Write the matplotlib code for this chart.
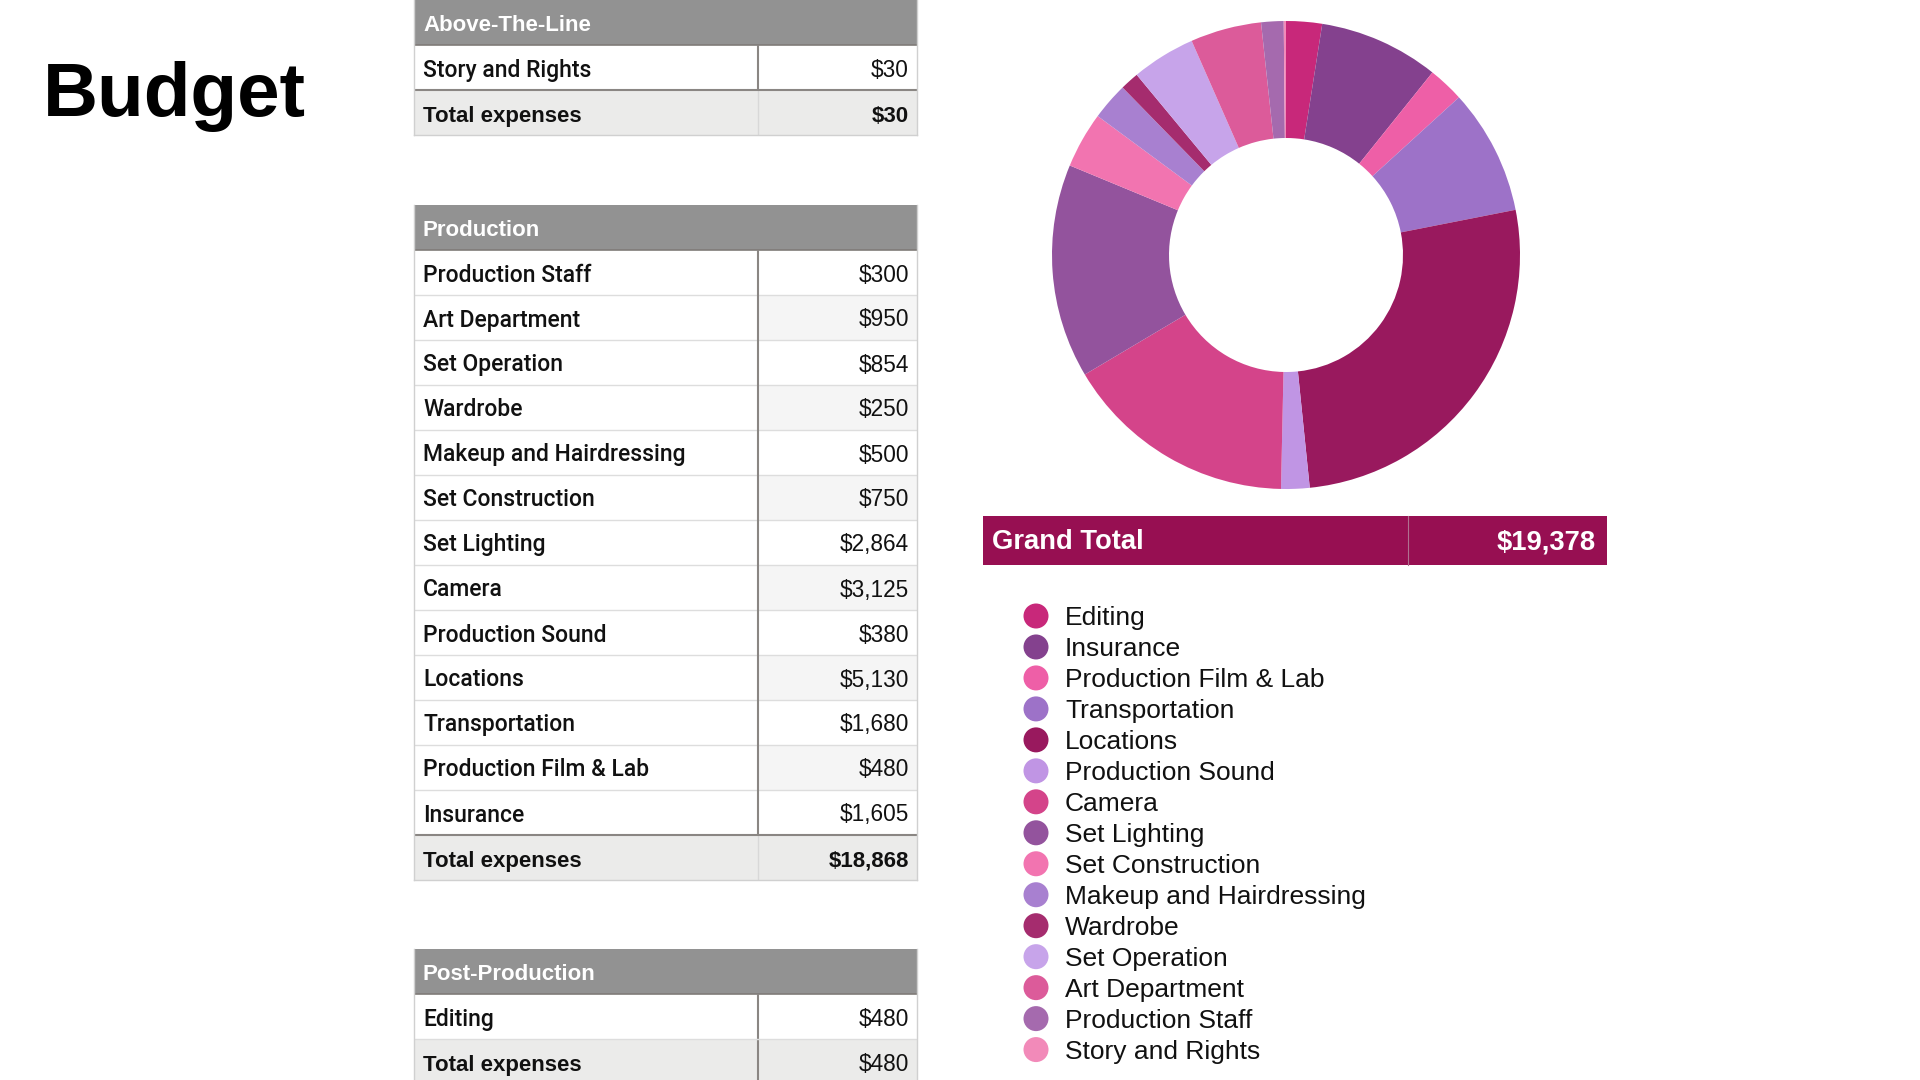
import matplotlib
matplotlib.use("Agg")
import matplotlib.pyplot as plt
from matplotlib.patches import Rectangle, Circle

# ---- data ----
above_items = ["Story and Rights"]
above_values = [30]

prod_items = ["Production Staff", "Art Department", "Set Operation", "Wardrobe",
              "Makeup and Hairdressing", "Set Construction", "Set Lighting", "Camera",
              "Production Sound", "Locations", "Transportation", "Production Film & Lab",
              "Insurance"]
prod_values = [300, 950, 854, 250, 500, 750, 2864, 3125, 380, 5130, 1680, 480, 1605]

post_items = ["Editing"]
post_values = [480]

# donut / legend order (clockwise from top)
pie_order = ["Editing", "Insurance", "Production Film & Lab", "Transportation",
             "Locations", "Production Sound", "Camera", "Set Lighting",
             "Set Construction", "Makeup and Hairdressing", "Wardrobe",
             "Set Operation", "Art Department", "Production Staff", "Story and Rights"]
pie_colors = ["#c8287a", "#84418e", "#ee5fa7", "#9d72c8", "#99195e", "#c095e4",
              "#d4448a", "#93539d", "#f274b0", "#a880d0", "#a52c6e", "#c7a4ea",
              "#dc5b9a", "#a56aae", "#f28ab9"]

FONT = "Liberation Sans"
LABEL_FONT = "Roboto"

fig = plt.figure(figsize=(19.2, 10.8), dpi=100)
ax = fig.add_axes([0, 0, 1, 1])
ax.set_xlim(0, 1920)
ax.set_ylim(1080, 0)
ax.axis("off")

ax.text(43, 116, "Budget", fontsize=55, fontweight="bold", family=FONT,
        color="#000000", va="baseline")

# ---- tables ----
TX0, TX1, TDIV = 414, 917, 758
RH = 45
DARK = "#8a8683"
LIGHT = "#dddddd"
BOLD_SIZE = 16
LABEL_SIZE = 16.5
VALUE_SIZE = 16.3


def fmt(v):
    return "${:,}".format(v)


def draw_table(top, title, items, values, total_bold_value=True, footer=True):
    # header
    ax.add_patch(Rectangle((TX0, top), TX1 - TX0, RH, facecolor="#929292", edgecolor="none"))
    ax.text(TX0 + 9, top + 31, title, fontsize=BOLD_SIZE, fontweight="bold", family=FONT,
            color="white", va="baseline")
    y = top + RH
    for i, (name, val) in enumerate(zip(items, values)):
        ax.add_patch(Rectangle((TX0, y), TX1 - TX0, RH, facecolor="white", edgecolor="none"))
        if i % 2 == 1:
            ax.add_patch(Rectangle((TDIV, y), TX1 - TDIV, RH, facecolor="#f5f5f5", edgecolor="none"))
        if i > 0:
            ax.plot([TX0, TX1], [y, y], color=LIGHT, lw=1, solid_capstyle="butt")
        ax.text(TX0 + 9, y + 32, name, fontsize=LABEL_SIZE, fontweight="medium", family=LABEL_FONT,
                color="#111111", va="baseline")
        ax.text(TX1 - 8, y + 32, fmt(val), fontsize=VALUE_SIZE, family=FONT,
                color="#111111", va="baseline", ha="right")
        y += RH
    # total row
    ax.add_patch(Rectangle((TX0, y), TX1 - TX0, RH, facecolor="#ebebea", edgecolor="none"))
    ax.text(TX0 + 9, y + 32, "Total expenses", fontsize=BOLD_SIZE, fontweight="bold", family=FONT,
            color="#111111", va="baseline")
    ax.text(TX1 - 8, y + 32, fmt(sum(values)),
            fontsize=BOLD_SIZE if total_bold_value else VALUE_SIZE,
            fontweight="bold" if total_bold_value else "normal", family=FONT,
            color="#111111", va="baseline", ha="right")
    # lines
    ax.plot([TX0, TX1], [top + RH, top + RH], color="#7f7b78", lw=1.2, solid_capstyle="butt")
    if footer:
        ax.plot([TDIV, TDIV], [top + RH, y], color=DARK, lw=1.5, solid_capstyle="butt")
        ax.plot([TDIV, TDIV], [y, y + RH], color="#d8d8d8", lw=1, solid_capstyle="butt")
        ax.plot([TX0, TX1], [y, y], color=DARK, lw=1.5, solid_capstyle="butt")
    else:
        ax.plot([TDIV, TDIV], [top + RH, y + RH], color=DARK, lw=1.5, solid_capstyle="butt")
        ax.plot([TX0, TX1], [y, y], color=LIGHT, lw=1, solid_capstyle="butt")
    ax.plot([TX0, TX0], [top, y + RH], color="#d0d0d0", lw=1)
    ax.plot([TX1, TX1], [top, y + RH], color="#d0d0d0", lw=1)
    ax.plot([TX0, TX1], [y + RH, y + RH], color="#d0d0d0", lw=1)


draw_table(0, "Above-The-Line", above_items, above_values)
draw_table(204.5, "Production", prod_items, prod_values)
draw_table(949, "Post-Production", post_items, post_values,
           total_bold_value=False, footer=False)

# ---- donut ----
lookup = dict(zip(above_items + prod_items + post_items,
                  above_values + prod_values + post_values))
pie_values = [lookup[k] for k in pie_order]
grand_total = sum(pie_values)

cx, cy, R = 1286, 255, 234
pax = fig.add_axes([(cx - R) / 1920, (1080 - cy - R) / 1080, 2 * R / 1920, 2 * R / 1080])
pax.pie(pie_values, colors=pie_colors, startangle=90, counterclock=False, radius=1,
        wedgeprops=dict(width=0.5, linewidth=0))
pax.set_xlim(-1, 1)
pax.set_ylim(-1, 1)
pax.axis("off")

# ---- grand total bar ----
ax.add_patch(Rectangle((983, 515.5), 1607 - 983, 49, facecolor="#970f52", edgecolor="none"))
ax.plot([1408, 1408], [515.5, 564.5], color="#b07090", lw=0.8)
ax.text(992, 549, "Grand Total", fontsize=19.7, fontweight="bold", family=FONT,
        color="white", va="baseline")
ax.text(1596, 549, fmt(grand_total), fontsize=19.7, fontweight="bold", family=FONT,
        color="white", va="baseline", ha="right")

# ---- legend ----
ly0, lstep = 616, 30.97
for i, (name, col) in enumerate(zip(pie_order, pie_colors)):
    yy = ly0 + i * lstep
    ax.add_patch(Circle((1036, yy), 12.5, facecolor=col, edgecolor="none"))
    ax.text(1065, yy + 9, name, fontsize=19, family=FONT, color="#111111", va="baseline")

fig.savefig("out.png", dpi=100)
